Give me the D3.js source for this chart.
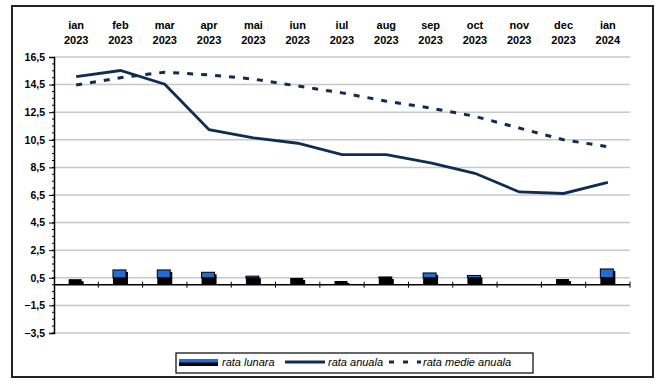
<!DOCTYPE html>
<html>
<head>
<meta charset="utf-8">
<script src="https://cdn.jsdelivr.net/npm/d3@7"></script>
<style>
  body { margin: 0; background: #fff; }
  text { font-family: "Liberation Sans", Arial, sans-serif; }
</style>
</head>
<body>
<div id="chart"></div>
<script>
// Data
const months = ['ian', 'feb', 'mar', 'apr', 'mai', 'iun', 'iul', 'aug', 'sep', 'oct', 'nov', 'dec', 'ian'];
const years = ['2023', '2023', '2023', '2023', '2023', '2023', '2023', '2023', '2023', '2023', '2023', '2023', '2024'];
const rataLunara = [0.4, 1.07, 1.07, 0.9, 0.62, 0.49, 0.27, 0.56, 0.85, 0.67, 0, 0.41, 1.14];
const rataAnuala = [15.07, 15.52, 14.53, 11.23, 10.64, 10.25, 9.43, 9.43, 8.83, 8.07, 6.72, 6.61, 7.41];
const rataMedie = [14.47, 15.0, 15.4, 15.2, 14.9, 14.4, 13.9, 13.3, 12.8, 12.2, 11.35, 10.5, 10.0];
const yTicks = [16.5, 14.5, 12.5, 10.5, 8.5, 6.5, 4.5, 2.5, 0.5, -1.5, -3.5];
const legendLabels = ['rata lunara', 'rata anuala', 'rata medie anuala'];

const W = 664, H = 385;
const navy = '#0f2d52';
const blue = '#1f6fd0';

const svg = d3.select('#chart').append('svg')
    .attr('width', W)
    .attr('height', H);

// outer frame
svg.append('rect')
    .attr('x', 12).attr('y', 6)
    .attr('width', 641).attr('height', 371)
    .attr('fill', '#fff')
    .attr('stroke', '#222')
    .attr('stroke-width', 2);

const plotL = 54, plotR = 630, plotT = 57, plotB = 333;
const keys = months.map((m, i) => i);

const x = d3.scaleBand()
    .domain(keys)
    .range([plotL, plotR]);

const y = d3.scaleLinear()
    .domain([-3.5, 16.5])
    .range([plotB, plotT]);

// gridlines
svg.append('g')
    .selectAll('line')
    .data(yTicks)
    .enter()
    .append('line')
    .attr('x1', plotL).attr('x2', plotR)
    .attr('y1', d => y(d)).attr('y2', d => y(d))
    .attr('stroke', '#c8c8c8')
    .attr('stroke-width', 1.5);

// y axis
const yAxis = d3.axisLeft(y)
    .tickValues(yTicks)
    .tickSize(5)
    .tickPadding(4)
    .tickFormat(d => d3.format('.1f')(d).replace('.', ','));

const yG = svg.append('g')
    .attr('transform', `translate(${plotL},0)`)
    .call(yAxis);
yG.select('.domain').attr('stroke', '#000').attr('stroke-width', 1.5);
yG.selectAll('text')
    .style('font-size', '10.5px')
    .style('font-weight', 'bold')
    .attr('fill', '#000');

// minor ticks
svg.append('g')
    .selectAll('line')
    .data(d3.range(-3.5, 16.5, 0.5))
    .enter()
    .append('line')
    .attr('x1', plotL - 2).attr('x2', plotL)
    .attr('y1', d => y(d)).attr('y2', d => y(d))
    .attr('stroke', '#000');

// x axis at zero
svg.append('line')
    .attr('x1', plotL).attr('x2', plotR)
    .attr('y1', y(0)).attr('y2', y(0))
    .attr('stroke', '#000')
    .attr('stroke-width', 1.5);

svg.append('g')
    .selectAll('line')
    .data(keys.slice(1).concat([13]))
    .enter()
    .append('line')
    .attr('x1', d => d < 13 ? x(d) : plotR)
    .attr('x2', d => d < 13 ? x(d) : plotR)
    .attr('y1', y(0) - 3).attr('y2', y(0) + 3)
    .attr('stroke', '#000');

// top category labels
const lab = svg.append('g')
    .selectAll('text')
    .data(keys)
    .enter()
    .append('text')
    .attr('x', d => x(d) + x.bandwidth() / 2)
    .attr('text-anchor', 'middle')
    .style('font-size', '11px')
    .style('font-weight', 'bold');
lab.append('tspan').attr('x', d => x(d) + x.bandwidth() / 2).attr('y', 29).text(d => months[d]);
lab.append('tspan').attr('x', d => x(d) + x.bandwidth() / 2).attr('y', 44).text(d => years[d]);

// bars: rata lunara
const bw = 13;
const bars = svg.append('g')
    .selectAll('g')
    .data(keys.filter(i => rataLunara[i] > 0))
    .enter()
    .append('g')
    .attr('transform', d => `translate(${x(d) + x.bandwidth() / 2 - bw / 2 - 1},0)`);

bars.append('rect')
    .attr('x', 2)
    .attr('y', d => y(rataLunara[d]) + 2)
    .attr('width', bw)
    .attr('height', d => y(0) - y(rataLunara[d]) - 2)
    .attr('fill', '#000');

bars.filter(d => rataLunara[d] > 0.5)
    .append('rect')
    .attr('y', d => y(rataLunara[d]))
    .attr('width', bw)
    .attr('height', d => y(0.5) - y(rataLunara[d]))
    .attr('fill', blue)
    .attr('stroke', '#000')
    .attr('stroke-width', 1);

bars.append('rect')
    .attr('y', d => y(Math.min(rataLunara[d], 0.5)))
    .attr('width', bw)
    .attr('height', d => y(0) - y(Math.min(rataLunara[d], 0.5)))
    .attr('fill', '#000');

// lines
const line = d3.line()
    .x(d => x(d[0]) + x.bandwidth() / 2)
    .y(d => y(d[1]));

svg.append('path')
    .datum(rataMedie.map((v, i) => [i, v]))
    .attr('d', line)
    .attr('fill', 'none')
    .attr('stroke', navy)
    .attr('stroke-width', 3)
    .attr('stroke-dasharray', '6,8');

svg.append('path')
    .datum(rataAnuala.map((v, i) => [i, v]))
    .attr('d', line)
    .attr('fill', 'none')
    .attr('stroke', navy)
    .attr('stroke-width', 2.8);

// legend
const lg = svg.append('g');
lg.append('rect')
    .attr('x', 176).attr('y', 353)
    .attr('width', 357).attr('height', 20)
    .attr('fill', '#fff')
    .attr('stroke', '#000')
    .attr('stroke-width', 1.2);

lg.append('rect')
    .attr('x', 179).attr('y', 359).attr('width', 39).attr('height', 7)
    .attr('fill', '#000');
lg.append('rect')
    .attr('x', 179).attr('y', 359).attr('width', 39).attr('height', 3.5)
    .attr('fill', blue);

lg.append('line')
    .attr('x1', 285).attr('x2', 325)
    .attr('y1', 362).attr('y2', 362)
    .attr('stroke', navy)
    .attr('stroke-width', 2.8);

lg.append('line')
    .attr('x1', 389).attr('x2', 421)
    .attr('y1', 362).attr('y2', 362)
    .attr('stroke', navy)
    .attr('stroke-width', 3)
    .attr('stroke-dasharray', '5,9');

lg.selectAll('text.lt')
    .data(legendLabels)
    .enter()
    .append('text')
    .attr('class', 'lt')
    .attr('x', (d, i) => [222, 328, 423][i])
    .attr('y', 366)
    .style('font-size', '11px')
    .style('font-style', 'italic')
    .text(d => d);
</script>
</body>
</html>
